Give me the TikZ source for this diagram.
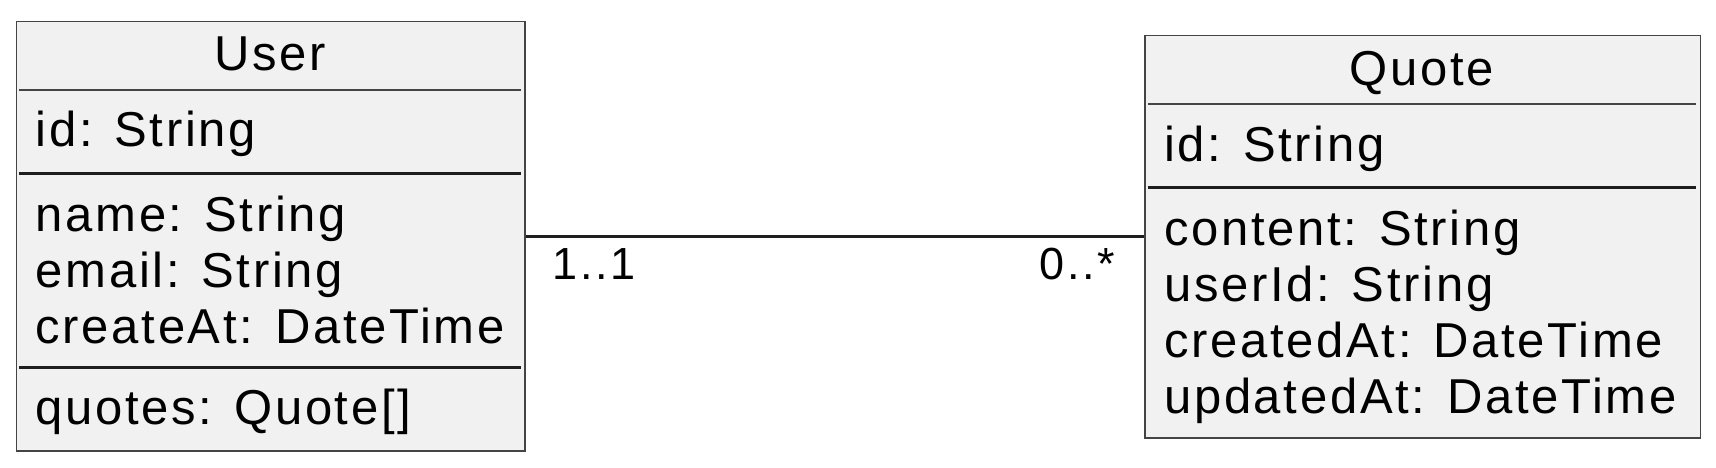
\documentclass[tikz,border=0pt]{standalone}
\usepackage{fontspec}
\setmainfont{Liberation Sans}
\newfontfamily\umlfont[LetterSpace=5.5]{Liberation Sans}
\newfontfamily\multfont[LetterSpace=6.5]{Liberation Sans}
\definecolor{boxfill}{HTML}{F1F1F1}
\definecolor{boxline}{HTML}{444444}
\definecolor{sepline}{HTML}{1E1E1E}
\begin{document}
\begin{tikzpicture}[x=1pt,y=-1pt,
  umlbox/.style={draw=boxline, line width=1.5pt, fill=boxfill, rectangle, inner sep=0pt, anchor=north west},
  attr/.style={anchor=base west, inner sep=0pt, font=\umlfont\fontsize{49}{56}\selectfont},
  title/.style={anchor=base, inner sep=0pt, font=\umlfont\fontsize{49}{56}\selectfont},
  mult/.style={anchor=base west, inner sep=0pt, font=\multfont\fontsize{45}{52}\selectfont},
  thinsep/.style={draw=boxline, line width=1.6pt},
  thicksep/.style={draw=sepline, line width=3pt},
  conn/.style={draw=sepline, line width=2.7pt}]
\useasboundingbox (0,0) rectangle (1716,468);
\fill[white] (0,0) rectangle (1716,468);
% User class
\node[umlbox, minimum width=508.3pt, minimum height=429.6pt] (user) at (15.7,20.7) {};
\draw[thinsep] (19.3,90) -- (520.5,90);
\draw[thicksep] (19.3,173) -- (520.5,173);
\draw[thicksep] (19.3,367.3) -- (520.5,367.3);
\node[title] (utitle) at (270,71) {User};
\node[attr] (uid) at (35.5,146.7) {id: String};
\node[attr] (uname) at (35.5,231) {name: String};
\node[attr] (uemail) at (35.5,287) {email: String};
\node[attr] (ucreate) at (35.5,343) {createAt: DateTime};
\node[attr] (uquotes) at (35.5,424.7) {quotes: Quote[]};
% Quote class
\node[umlbox, minimum width=555.4pt, minimum height=402pt] (quote) at (1144.3,35) {};
\draw[thinsep] (1147.9,104) -- (1696.1,104);
\draw[thicksep] (1147.9,187) -- (1696.1,187);
\node[title] (qtitle) at (1422,85.5) {Quote};
\node[attr] (qid) at (1164,161) {id: String};
\node[attr] (qcontent) at (1164,245) {content: String};
\node[attr] (quserid) at (1164,301) {userId: String};
\node[attr] (qcreated) at (1164,357) {createdAt: DateTime};
\node[attr] (qupdated) at (1164,413) {updatedAt: DateTime};
% Association
\draw[conn] (user.east) -- (user.east -| quote.west);
\node[mult] (m1) at (552,279) {1..1};
\node[mult] (m2) at (1039,279) {0..*};
\end{tikzpicture}
\end{document}
